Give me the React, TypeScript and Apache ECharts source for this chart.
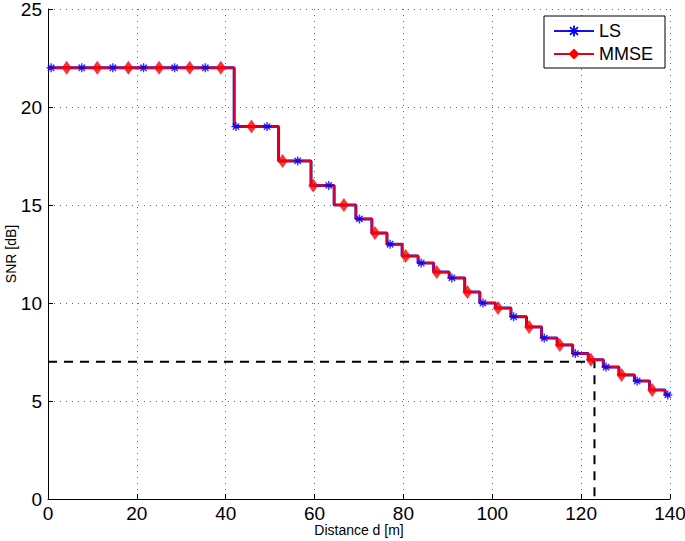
import React, { useEffect, useRef } from "react";
import * as echarts from "echarts";

// Stair (piecewise constant) SNR curve: value starts at stairX[i]
const stairX = [0, 41.9, 51.9, 59.2, 64.4, 69.3, 72.9, 76.3, 79.7, 83.3, 86.8, 90.3, 93.8, 97.2, 100.7, 104.2, 107.7, 111.1, 114.6, 118.1, 121.6, 125.0, 128.5, 132.0, 135.4, 138.9, 140];
const stairSNR = [22, 19, 17.25, 16, 15, 14.29, 13.57, 13.0, 12.4, 12.04, 11.58, 11.28, 10.56, 10.0, 9.74, 9.3, 8.78, 8.21, 7.86, 7.42, 7.1, 6.73, 6.33, 6.02, 5.56, 5.31, 5.31];

// LS markers
const lsX = [0.7, 7.6, 14.6, 21.5, 28.5, 35.4, 42.3, 49.3, 56.2, 63.2, 70.1, 77.0, 84.0, 90.9, 97.9, 104.8, 111.7, 118.7, 125.6, 132.6, 139.5];
const lsSNR = [22, 22, 22, 22, 22, 22, 19, 19, 17.25, 16, 14.29, 13.0, 12.04, 11.28, 10.0, 9.3, 8.21, 7.42, 6.73, 6.02, 5.31];

// MMSE markers
const mmseX = [4.2, 11.1, 18.1, 25.0, 31.9, 38.9, 45.8, 52.8, 59.7, 66.6, 73.6, 80.5, 87.5, 94.4, 101.3, 108.3, 115.2, 122.2, 129.1, 136.0];
const mmseSNR = [22, 22, 22, 22, 22, 22, 19, 17.25, 16, 15, 13.57, 12.4, 11.58, 10.56, 9.74, 8.78, 7.86, 7.1, 6.33, 5.56];

// Threshold guide
const thresholdSNR = 7;
const thresholdDist = 123;

const xTicks = { min: 0, max: 140, interval: 20 };
const yTicks = { min: 0, max: 25, interval: 5 };

const ASTERISK =
  "path://M-5,-0.8L5,-0.8L5,0.8L-5,0.8Z M-0.8,-5L0.8,-5L0.8,5L-0.8,5Z M-2.97,-4.1L4.1,2.97L2.97,4.1L-4.1,-2.97Z M-2.97,4.1L-4.1,2.97L2.97,-4.1L4.1,-2.97Z";

const FONT = "'Liberation Sans', Arial, Helvetica, sans-serif";

export default function App() {
  const ref = useRef<HTMLDivElement>(null);
  useEffect(() => {
    if (!ref.current) return;
    const chart = echarts.init(ref.current, null, { renderer: "svg" });
    const stairData = stairX.map((x, i) => [x, stairSNR[i]]);
    const lsData = lsX.map((x, i) => [x, lsSNR[i]]);
    const mmseData = mmseX.map((x, i) => [x, mmseSNR[i]]);
    const gridLine = { show: true, lineStyle: { color: "#666", width: 1, type: [1, 5] as any } };
    chart.setOption({
      animation: false,
      backgroundColor: "#ffffff",
      textStyle: { fontFamily: FONT },
      grid: { left: 48, right: 15, top: 9, bottom: 42, containLabel: false, outerBoundsMode: "none" },
      legend: {
        data: ["LS", "MMSE"],
        orient: "vertical",
        left: 544,
        top: 16,
        itemWidth: 40,
        itemHeight: 14,
        itemGap: 5,
        padding: [6, 12, 5, 9],
        borderColor: "#000",
        borderWidth: 1,
        backgroundColor: "#fff",
        textStyle: { fontSize: 18, color: "#000", fontFamily: FONT },
      },
      xAxis: {
        type: "value",
        ...xTicks,
        name: "Distance d [m]",
        nameLocation: "middle",
        nameGap: 24,
        nameMoveOverlap: false,
        nameTextStyle: { fontSize: 14, color: "#000", fontFamily: FONT },
        axisLine: { show: true, lineStyle: { color: "#000", width: 1 } },
        axisTick: { show: true, inside: true, length: 5, lineStyle: { color: "#000" } },
        axisLabel: { fontSize: 19, color: "#000", margin: 5, fontFamily: FONT },
        splitLine: gridLine,
      },
      yAxis: {
        type: "value",
        ...yTicks,
        name: "SNR [dB]",
        nameLocation: "middle",
        nameGap: 30,
        nameRotate: 90,
        nameMoveOverlap: false,
        nameTextStyle: { fontSize: 14, color: "#000", fontFamily: FONT },
        axisLine: { show: true, lineStyle: { color: "#000", width: 1 } },
        axisTick: { show: true, inside: true, length: 5, lineStyle: { color: "#000" } },
        axisLabel: { fontSize: 19, lineHeight: 15, color: "#000", margin: 6, fontFamily: FONT },
        splitLine: gridLine,
      },
      series: [
        {
          name: "threshold",
          type: "line",
          data: [[0, thresholdSNR], [thresholdDist, thresholdSNR], [thresholdDist, 0]],
          showSymbol: false,
          symbol: "none",
          lineStyle: { color: "#000", width: 2, type: [9, 7] as any },
          z: 2,
        },
        {
          name: "LS",
          type: "line",
          step: "end",
          data: stairData,
          showSymbol: false,
          symbol: ASTERISK,
          symbolSize: 9,
          itemStyle: { color: "#0000ff" },
          lineStyle: { color: "#2010e0", width: 3 },
          z: 3,
        },
        {
          name: "MMSE",
          type: "line",
          step: "end",
          data: stairData,
          showSymbol: false,
          symbol: "diamond",
          symbolSize: [10, 13],
          itemStyle: { color: "#ff0000" },
          lineStyle: { color: "#e00020", width: 2.2 },
          z: 4,
        },
        {
          name: "LS markers",
          type: "scatter",
          data: lsData,
          symbol: ASTERISK,
          symbolSize: 9,
          itemStyle: { color: "#0000ff" },
          z: 5,
        },
        {
          name: "MMSE markers",
          type: "scatter",
          data: mmseData,
          symbol: "diamond",
          symbolSize: [10, 14],
          itemStyle: { color: "#ff0000" },
          z: 5,
        },
      ],
    });
    return () => chart.dispose();
  }, []);
  return <div ref={ref} style={{ width: 685, height: 541, position: "absolute", left: 0, top: 0 }} />;
}
